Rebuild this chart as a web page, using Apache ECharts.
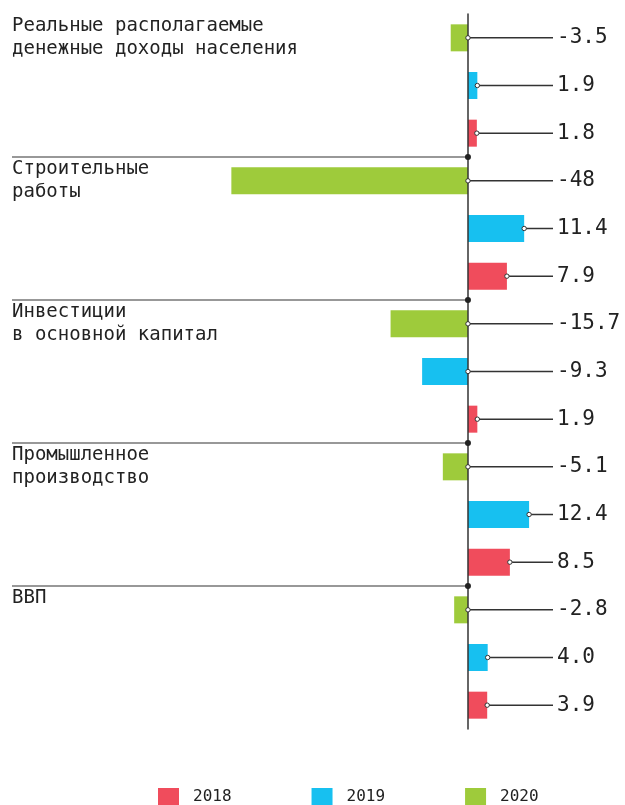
<!DOCTYPE html>
<html>
<head>
<meta charset="utf-8">
<script src="https://cdn.jsdelivr.net/npm/echarts@6/dist/echarts.min.js"></script>
<style>
  html, body { margin: 0; padding: 0; background: #fff; }
  #chart { width: 625px; height: 805px; }
</style>
</head>
<body>
<div id="chart"></div>
<script>
// groups top to bottom
const categories = [
  'Реальные располагаемые\nденежные доходы населения',
  'Строительные\nработы',
  'Инвестиции\nв основной капитал',
  'Промышленное\nпроизводство',
  'ВВП'
]
const years = ['2018', '2019', '2020']
const values2018 = [1.8, 7.9, 1.9, 8.5, 3.9]
const values2019 = [1.9, 11.4, -9.3, 12.4, 4.0]
const values2020 = [-3.5, -48, -15.7, -5.1, -2.8]
const labels2018 = ['1.8', '7.9', '1.9', '8.5', '3.9']
const labels2019 = ['1.9', '11.4', '-9.3', '12.4', '4.0']
const labels2020 = ['-3.5', '-48', '-15.7', '-5.1', '-2.8']

const colors = { '2018': '#f04c5c', '2019': '#17c0f0', '2020': '#9ecb3b' }
const FONT = '"DejaVu Sans Mono", monospace'

// each group takes three rows: 2020, 2019, 2018
const rowOrder = [
  { year: '2020', values: values2020, labels: labels2020 },
  { year: '2019', values: values2019, labels: labels2019 },
  { year: '2018', values: values2018, labels: labels2018 }
]
const rowCount = categories.length * 3
const rows = Array.from({ length: rowCount }, () => '')

const barSeries = years.map((y) => {
  const k = rowOrder.findIndex((r) => r.year === y)
  const data = rows.map(() => '-')
  rowOrder[k].values.forEach((v, g) => { data[g * 3 + k] = v })
  return {
    name: y,
    type: 'bar',
    data,
    barWidth: 27,
    barGap: '-100%',
    itemStyle: { color: colors[y] },
    silent: true
  }
})

const calloutData = []
const calloutText = []
categories.forEach((c, g) => {
  rowOrder.forEach((r, k) => {
    calloutData.push([r.values[g], g * 3 + k])
    calloutText.push(r.labels[g])
  })
})

const chart = echarts.init(document.getElementById('chart'))

chart.setOption({
  backgroundColor: '#fff',
  animation: false,
  grid: { left: 12, right: 72, top: 14, height: 715 },
  legend: {
    data: years,
    left: 153,
    top: 783,
    itemWidth: 21,
    itemHeight: 17,
    itemGap: 80,
    icon: 'rect',
    textStyle: { fontFamily: FONT, fontSize: 16, color: '#222', padding: [0, 0, 0, 9] }
  },
  xAxis: {
    type: 'value',
    min: -92.5,
    max: 17.25,
    show: false,
    splitLine: { show: false }
  },
  yAxis: {
    type: 'category',
    data: rows,
    inverse: true,
    z: 5,
    axisLine: { show: true, onZero: true, lineStyle: { color: '#333', width: 1.5 } },
    axisTick: { show: false },
    axisLabel: { show: false }
  },
  series: [
    ...barSeries,
    {
      // group titles and separators
      type: 'custom',
      silent: true,
      clip: false,
      z: 6,
      data: categories.map((c, g) => [0, g * 3]),
      renderItem: (params, api) => {
        const g = params.dataIndex
        const p = api.coord([0, api.value(1)])
        const h = api.size([0, 1])[1]
        const top = p[1] - h / 2
        const left = params.coordSys.x
        const children = [{
          type: 'text',
          style: {
            text: categories[g],
            x: left,
            y: top + 1,
            fill: '#222',
            font: '19px ' + FONT,
            lineHeight: 23,
            verticalAlign: 'top'
          }
        }]
        if (g > 0) {
          children.push({
            type: 'line',
            shape: { x1: left, y1: top, x2: p[0], y2: top },
            style: { stroke: '#333', lineWidth: 1.2 }
          })
          children.push({
            type: 'circle',
            shape: { cx: p[0], cy: top, r: 3 },
            style: { fill: '#222' }
          })
        }
        return { type: 'group', children }
      }
    },
    {
      // value callouts
      type: 'custom',
      silent: true,
      clip: false,
      z: 6,
      data: calloutData,
      renderItem: (params, api) => {
        const v = api.value(0)
        const p = api.coord([Math.max(v, 0), api.value(1)])
        const right = params.coordSys.x + params.coordSys.width
        return {
          type: 'group',
          children: [
            {
              type: 'line',
              shape: { x1: p[0], y1: p[1], x2: right, y2: p[1] },
              style: { stroke: '#333', lineWidth: 1.5 }
            },
            {
              type: 'circle',
              shape: { cx: p[0], cy: p[1], r: 2.2 },
              style: { fill: '#fff', stroke: '#333', lineWidth: 1 }
            },
            {
              type: 'text',
              style: {
                text: calloutText[params.dataIndex],
                x: right + 4,
                y: p[1],
                fill: '#222',
                font: '21px ' + FONT,
                verticalAlign: 'middle'
              }
            }
          ]
        }
      }
    }
  ]
})
</script>
</body>
</html>
